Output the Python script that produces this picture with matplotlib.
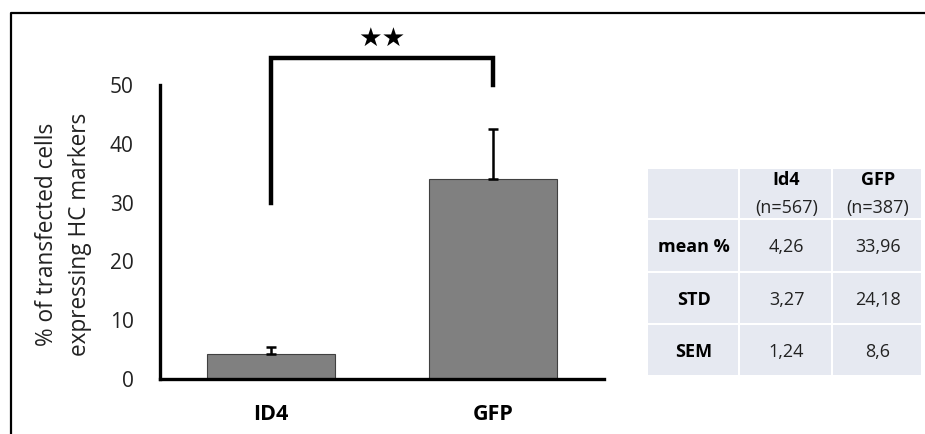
import matplotlib.pyplot as plt
from matplotlib.lines import Line2D
from matplotlib.patches import Rectangle

# data
groups = ["ID4", "GFP"]
means = [4.26, 33.96]
sem = [1.24, 8.6]
# significance bracket: left leg bottom, right leg bottom, bar height
bracket_y = [30, 50, 54.6]

table_cols = ["Id4", "GFP"]
table_n = ["(n=567)", "(n=387)"]
table_rows = ["mean %", "STD", "SEM"]
table_vals = [["4,26", "33,96"], ["3,27", "24,18"], ["1,24", "8,6"]]

W, H = 925, 434
plt.rcParams["font.family"] = ["Open Sans", "DejaVu Sans"]
fig = plt.figure(figsize=(W / 100, H / 100), dpi=100)


def fx(px):
    return px / W


def fy(py):
    return 1 - py / H


# outer frame (left and top edges only)
fig.add_artist(Line2D([fx(11), fx(11), fx(925)], [fy(434), fy(13), fy(13)],
                      transform=fig.transFigure, color="black", lw=1.6))

ax = fig.add_axes([fx(160), fy(379), fx(604) - fx(160), fy(85) - fy(379)])
x = range(len(groups))
ax.bar(x, means, width=0.577, color="#808080", edgecolor="#404040", lw=0.8, zorder=2)
ax.errorbar(x, means, yerr=[[0, 0], sem], fmt="none", ecolor="black",
            elinewidth=1.8, capsize=3.5, capthick=1.8, zorder=3)
ax.set_xlim(-0.5, 1.5)
ax.set_ylim(0, 50)
ax.set_yticks(range(0, 51, 10))
ax.tick_params(axis="y", length=0, pad=19, labelsize=15, labelcolor="#222222")
ax.set_xticks([])
for s in ["top", "right"]:
    ax.spines[s].set_visible(False)
for s in ["left", "bottom"]:
    ax.spines[s].set_linewidth(2.4)

fig.text(fx(64), fy(234), "% of transfected cells\nexpressing HC markers",
         rotation=90, ha="center", va="center", multialignment="center",
         fontsize=16.3, linespacing=1.5, color="#222222")

# significance bracket
ax.plot([0, 0, 1, 1], [bracket_y[0], bracket_y[2], bracket_y[2], bracket_y[1]],
        color="black", lw=3.2, clip_on=False, solid_joinstyle="miter")
ax.text(0.5, bracket_y[2] + 1.0, "★★", ha="center", va="bottom", fontsize=19,
        family="DejaVu Sans", clip_on=False)

for i, g in enumerate(groups):
    ax.text(i, -6.1, g, ha="center", va="center", fontsize=15.5,
            fontweight="bold", clip_on=False)

# summary table
col_x = [648, 740, 833, 923]
row_y = [167, 218, 271, 323, 375]
for r in range(4):
    for c in range(3):
        fig.add_artist(Rectangle((fx(col_x[c]), fy(row_y[r + 1])),
                                 fx(col_x[c + 1] - col_x[c]) - 0.002,
                                 (row_y[r + 1] - row_y[r]) / H - 0.004,
                                 transform=fig.transFigure, color="#e6e9f1", lw=0))


def cell_center(c, r):
    return fx((col_x[c] + col_x[c + 1]) / 2), fy((row_y[r] + row_y[r + 1]) / 2 + 3)


for c, (name, n) in enumerate(zip(table_cols, table_n)):
    cx, cy = cell_center(c + 1, 0)
    fig.text(cx, cy + 16 / H, name, ha="center", va="center", fontsize=13, fontweight="bold")
    fig.text(cx, cy - 12 / H, n, ha="center", va="center", fontsize=13, color="#222222")
for r, name in enumerate(table_rows):
    cx, cy = cell_center(0, r + 1)
    fig.text(cx, cy, name, ha="center", va="center", fontsize=13, fontweight="bold")
    for c in range(2):
        cx, cy = cell_center(c + 1, r + 1)
        fig.text(cx, cy, table_vals[r][c], ha="center", va="center", fontsize=13,
                 color="#222222")

fig.savefig("out.png", dpi=100)
